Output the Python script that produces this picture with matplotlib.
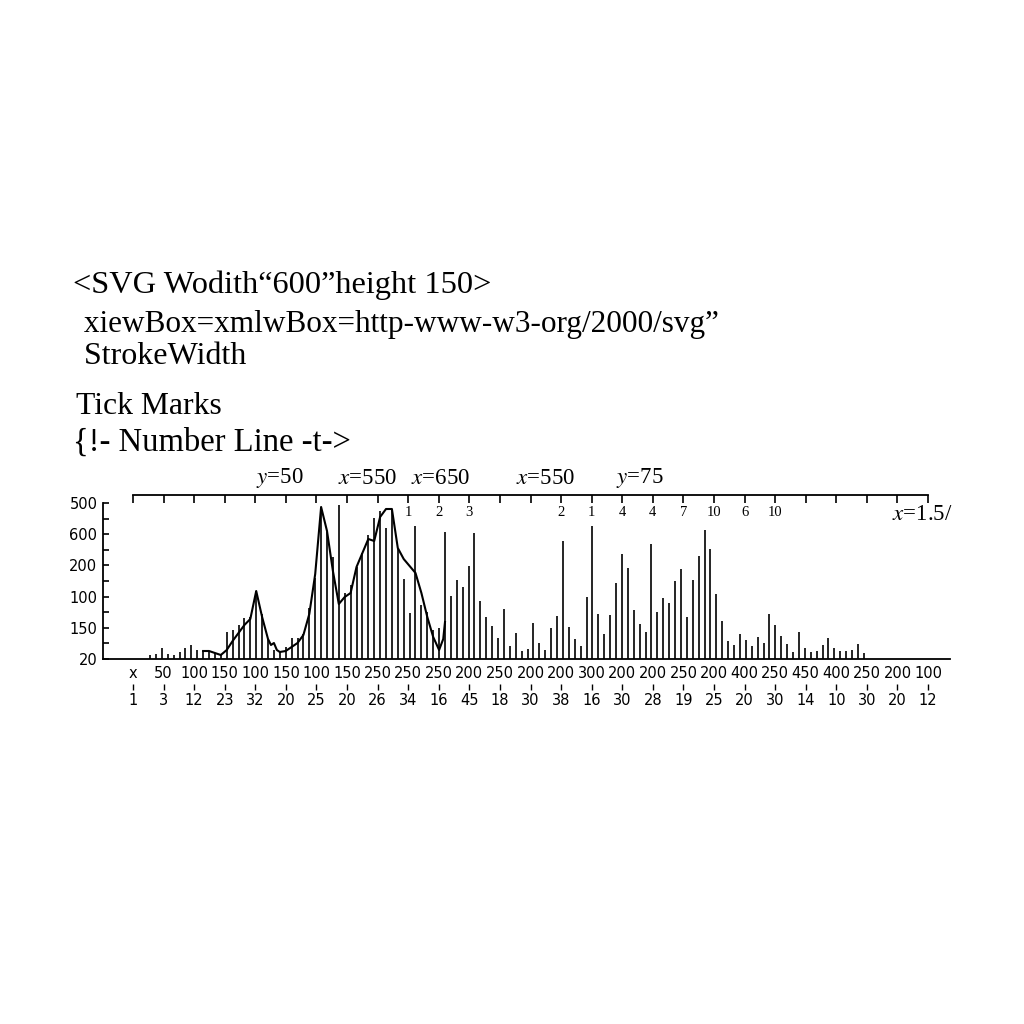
import numpy as np
import matplotlib
matplotlib.use("Agg")
import matplotlib.pyplot as plt

plt.rcParams["mathtext.fontset"] = "stix"

# bar heights, one per bar (axis spans 0..156)
bar_heights = [
    4, 5, 11, 5, 4, 7, 11, 14, 9, 8, 8, 6, 5, 27, 29, 34, 41, 42, 68, 45,
    20, 9, 8, 12, 21, 21, 25, 51, 81, 152, 127, 102, 154, 66, 74, 92, 106, 124, 141, 148,
    131, 149, 111, 80, 46, 133, 54, 47, 29, 31, 127, 63, 79, 72, 93, 126, 58, 42, 33, 21,
    50, 13, 26, 8, 10, 36, 16, 9, 31, 43, 118, 32, 20, 13, 62, 133, 45, 25, 44, 76,
    105, 91, 49, 35, 27, 115, 47, 61, 56, 78, 90, 42, 79, 103, 129, 110, 65, 38, 18, 14,
    25, 19, 13, 22, 16, 45, 34, 23, 15, 7, 27, 11, 7, 8, 14, 21, 11, 8, 8, 9,
    15, 6,
]

# envelope curve (bar index, height)
curve_x = [9, 10, 11, 12, 13, 14, 15, 16, 17, 18, 19, 20, 20.5, 21, 21.5, 22, 23, 24, 25, 26,
           27, 28, 29, 30, 31, 32, 33, 34, 35, 36, 37, 38, 39, 40, 41, 42, 43, 44, 45, 46,
           47, 48, 49, 49.7, 50]
curve_y = [8, 8, 6, 4, 9, 18, 26, 34, 40, 68, 42, 20, 14, 16, 9, 7, 8, 12, 16, 24,
           45, 85, 152, 128, 88, 55, 62, 66, 92, 106, 120, 118, 142, 150, 150, 111, 100, 93, 86, 66,
           42, 22, 9, 20, 37]

y_labels = ["20", "150", "100", "200", "600", "500"]
x_labels = ["x", "50", "100", "150", "100", "150", "100", "150", "250", "250", "250", "200", "250",
            "200", "200", "300", "200", "200", "250", "200", "400", "250", "450", "400", "250", "200", "100"]
x_labels2 = ["1", "3", "12", "23", "32", "20", "25", "20", "26", "34", "16", "45", "18",
             "30", "38", "16", "30", "28", "19", "25", "20", "30", "14", "10", "30", "20", "12"]
top_notes = {9: "1", 10: "2", 11: "3", 14: "2", 15: "1", 16: "4", 17: "4",
             18: "7", 19: "10", 20: "6", 21: "10"}
top_marks = [("y", "50", 280), ("x", "550", 368), ("x", "650", 441), ("x", "550", 546), ("y", "75", 640)]

header = [
    ("<SVG Wodith\u201c600\u201dheight 150>", 73, 293, 23.3),
    (" xiewBox=xmlwBox=http-www-w3-org/2000/svg\u201d", 76, 332, 22.5),
    (" StrokeWidth", 76, 364, 23),
    ("Tick Marks", 76, 414, 22.8),
    ("{!- Number Line -t->", 73, 451, 23.5),
]

W = H = 1024


def fx(x):
    return x / W


def fy(y):
    return 1 - y / H


fig = plt.figure(figsize=(10.24, 10.24), dpi=100)
ax = fig.add_axes([fx(103), fy(659), (950 - 103) / W, (659 - 503) / H])

idx = np.arange(len(bar_heights))
ax.vlines(idx, 0, bar_heights, color="black", lw=1.2)
ax.plot(curve_x, curve_y, color="black", lw=1.5)

ax.set_xlim(-7.97, 135.6)
ax.set_ylim(0, 156)

ticks = -2.88 + 5.183 * np.arange(27)

ax.spines["right"].set_visible(False)
ax.spines["top"].set_position(("outward", 5.8))
ax.spines["top"].set_bounds(ticks[0], ticks[-1])
for s in ax.spines.values():
    s.set_linewidth(1.3)

ax.set_yticks(np.linspace(0, 156, 6))
ax.set_yticklabels(y_labels, fontsize=10.5)
ax.set_yticks(np.linspace(15.6, 140.4, 5), minor=True)
ax.tick_params(axis="y", which="both", direction="in", length=4.3, width=1.2, pad=4)

ax.set_xticks(ticks)
ax.set_xticklabels(x_labels, fontsize=10.5)
ax.tick_params(axis="x", which="major", bottom=True, top=True, direction="in", length=5.5,
               width=1.2, pad=5, labelbottom=True, labeltop=False)
# bottom row keeps only its labels
for t in ax.xaxis.get_major_ticks():
    t.tick1line.set_visible(False)

sec = ax.secondary_xaxis(-0.16)
sec.set_xticks(ticks)
sec.set_xticklabels(x_labels2, fontsize=10.5)
sec.spines["bottom"].set_visible(False)
sec.tick_params(direction="out", length=4.5, width=1.0, pad=2)

for k, lab in top_notes.items():
    ax.text(ticks[k], 146, lab, ha="center", va="center", fontsize=10.5, family="Liberation Serif")

for var, val, x in top_marks:
    fig.text(fx(x), fy(478), f"${var}$={val}", ha="center", va="center", fontsize=16.5,
             family="Liberation Serif")

fig.text(fx(953), fy(515), "$x$=1.5/", ha="right", va="center", fontsize=16.5, family="Liberation Serif")

for txt, x, y, size in header:
    fig.text(fx(x), fy(y), txt, ha="left", va="baseline", fontsize=size, family="Liberation Serif")

fig.savefig("out.png", dpi=100, facecolor="white")
